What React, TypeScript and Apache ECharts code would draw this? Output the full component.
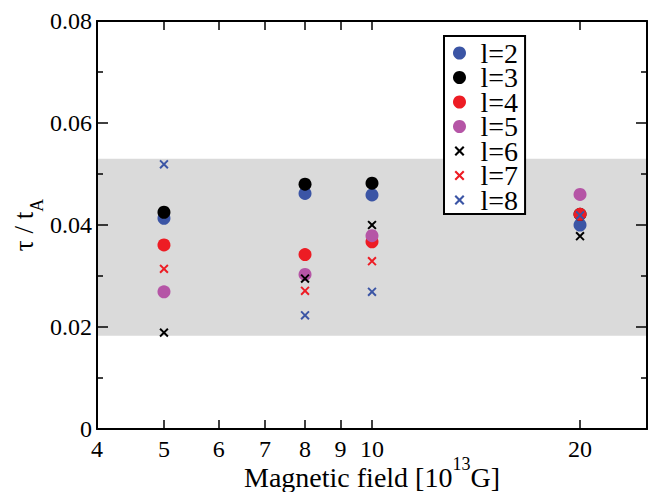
import React, { useEffect, useRef } from "react";
import * as echarts from "echarts";

// Magnetic field values [10^13 G]
const fields = [5, 8, 10, 20];
// tau / t_A for each l
const l2 = [0.0413, 0.0462, 0.0459, 0.04];
const l3 = [0.0425, 0.048, 0.0482, 0.0421];
const l4 = [0.0361, 0.0342, 0.0367, 0.0421];
const l5 = [0.0269, 0.0303, 0.0379, 0.046];
const l6 = [0.0189, 0.0295, 0.04, 0.0378];
const l7 = [0.0314, 0.0271, 0.0329, 0.0421];
const l8 = [0.0519, 0.0223, 0.0269, 0.0419];

const seriesNames = ["l=2", "l=3", "l=4", "l=5", "l=6", "l=7", "l=8"];
const seriesValues = [l2, l3, l4, l5, l6, l7, l8];
const seriesColors = ["#3b55a5", "#000000", "#ed1c24", "#b555a6", "#000000", "#ed1c24", "#3b55a5"];
const seriesIsCross = [false, false, false, false, true, true, true];

const xTickValues = [4, 5, 6, 7, 8, 9, 10, 20];
const xRange = [4, 25];
const yRange = [0, 0.08];
const yInterval = 0.02;
const band = [0.0183, 0.053];

const FONT = "Liberation Serif";
const CROSS =
  "path://M-1.5,-1.5M11.5,11.5M1.5,0L5,3.5L8.5,0L10,1.5L6.5,5L10,8.5L8.5,10L5,6.5L1.5,10L0,8.5L3.5,5L0,1.5Z";

const lx = (v: number) => Math.log10(v);

export default function App() {
  const ref = useRef<HTMLDivElement>(null);
  useEffect(() => {
    document.body.style.margin = "0";
    const chart = echarts.init(ref.current!, null, { renderer: "svg" });
    const axisLine = { show: true, onZero: false, lineStyle: { color: "#000", width: 2 } };
    const xTicks = xTickValues.map(lx);
    const xBase = {
      type: "value" as const,
      min: lx(xRange[0]),
      max: lx(xRange[1]),
      splitLine: { show: false },
      axisLine,
      z: 5,
      axisTick: {
        show: true,
        inside: true,
        length: 9,
        lineStyle: { color: "#000", width: 1.5 },
        customValues: xTicks,
      },
    };
    const yBase = {
      type: "value" as const,
      min: yRange[0],
      max: yRange[1],
      interval: yInterval,
      splitLine: { show: false },
      axisLine,
      z: 5,
      axisTick: { show: true, inside: true, length: 11, lineStyle: { color: "#000", width: 1.5 } },
      minorTick: { show: true, splitNumber: 2, length: 6, lineStyle: { color: "#000", width: 1.5 } },
    };
    const series: any[] = [
      {
        type: "scatter",
        name: "band",
        data: [],
        z: 1,
        silent: true,
        markArea: {
          silent: true,
          itemStyle: { color: "#dadada" },
          data: [[{ yAxis: band[0] }, { yAxis: band[1] }]],
        },
      },
    ];
    seriesNames.forEach((name, i) => {
      series.push({
        type: "scatter",
        name,
        z: 3,
        silent: true,
        symbol: seriesIsCross[i] ? CROSS : "circle",
        symbolKeepAspect: true,
        symbolSize: seriesIsCross[i] ? 12 : 13,
        itemStyle: { color: seriesColors[i], opacity: 1 },
        data: fields.map((f, j) => [lx(f), seriesValues[i][j]]),
      });
    });
    chart.setOption({
      animation: false,
      grid: {
        left: 97,
        right: 9,
        top: 21,
        bottom: 63,
        containLabel: false,
        outerBoundsMode: "none",
      },
      legend: {
        orient: "vertical",
        left: 444,
        top: 36,
        padding: [3, 7, 0, 9],
        itemGap: -3.5,
        itemWidth: 32,
        itemHeight: 13,
        selectedMode: false,
        backgroundColor: "#fff",
        borderColor: "#000",
        borderWidth: 2,
        borderRadius: 0,
        textStyle: { fontFamily: FONT, fontSize: 28, lineHeight: 25, color: "#000" },
        data: seriesNames,
      },
      xAxis: [
        {
          ...xBase,
          position: "bottom",
          axisLabel: {
            customValues: xTicks,
            formatter: (v: number) => String(Math.round(Math.pow(10, v))),
            color: "#000",
            fontFamily: FONT,
            fontSize: 24,
            margin: 8,
          },
          name: "Magnetic field [10{sup|13}G]",
          nameLocation: "middle",
          nameGap: 26,
          nameMoveOverlap: false,
          nameTextStyle: {
            fontFamily: FONT,
            fontSize: 28,
            color: "#000",
            rich: {
              sup: { fontFamily: FONT, fontSize: 18, color: "#000", padding: [0, 0, 26, 0] },
            },
          },
        },
        {
          ...xBase,
          position: "top",
          axisLabel: { show: false },
        },
      ],
      yAxis: [
        {
          ...yBase,
          position: "left",
          axisLabel: {
            color: "#000",
            fontFamily: FONT,
            fontSize: 24,
            margin: 5,
            formatter: (v: number) => (v === 0 ? "0" : v.toFixed(2)),
          },
          name: "{m|τ / t}{s|A}",
          nameLocation: "middle",
          nameRotate: 90,
          nameGap: 51,
          nameMoveOverlap: false,
          nameTextStyle: {
            rich: {
              m: { fontFamily: FONT, fontSize: 27, color: "#000" },
              s: { fontFamily: FONT, fontSize: 18, color: "#000", padding: [26, 0, 0, 0] },
            },
          },
        },
        {
          ...yBase,
          position: "right",
          axisLabel: { show: false },
        },
      ],
      series,
    });
    return () => chart.dispose();
  }, []);
  return <div ref={ref} style={{ width: 656, height: 492 }} />;
}
